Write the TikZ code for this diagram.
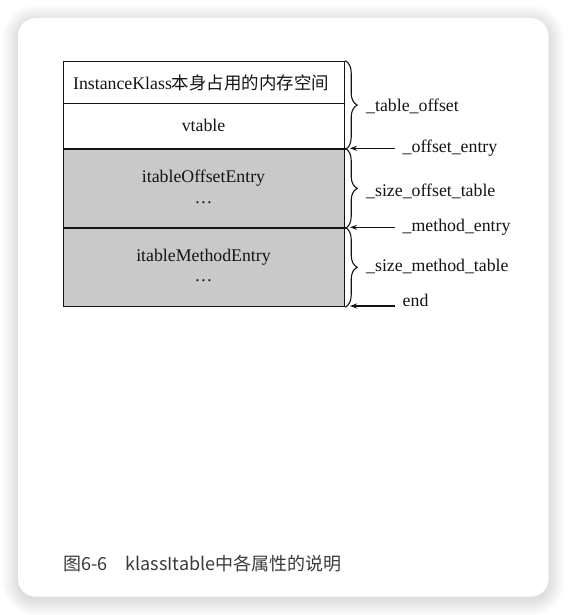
\documentclass[tikz,border=0pt]{standalone}
\usepackage{fontspec}
\setmainfont{Liberation Serif}
\newfontfamily\cjk[Scale=0.98]{Noto Sans CJK SC}
\newfontfamily\capfont{Noto Sans CJK SC}
\usetikzlibrary{decorations.pathreplacing,arrows.meta}
\definecolor{cellgray}{RGB}{201,201,201}
\definecolor{inkc}{RGB}{20,20,20}
\definecolor{capc}{RGB}{58,58,58}
\begin{document}
\begin{tikzpicture}[x=1pt,y=-1pt,
  cell/.style={draw=inkc, line width=1.2pt, minimum width=281pt, inner sep=0pt, anchor=north west},
  txt/.style={font=\fontsize{17.8}{20}\selectfont, inner sep=0pt, text=inkc, anchor=base},
  lbl/.style={font=\fontsize{17.8}{20}\selectfont, inner sep=0pt, text=inkc, anchor=base west},
  bracec/.style={draw=inkc, line width=1.1pt, decorate, decoration={brace, amplitude=12pt}},
  arr/.style={draw=inkc, line width=1.1pt, -{Stealth[length=7pt,width=5pt]}}
]
\useasboundingbox (0,0) rectangle (567,615);
\fill[white] (0,0) rectangle (567,615);
% card shadow
\foreach \i [evaluate=\i as \r using 18+\i] in {1,...,16} {
  \fill[black, opacity=0.006, rounded corners=\r pt] (18-\i,18-\i+3) rectangle (548.5+\i,596.7+\i+3);
}
\fill[white, rounded corners=18pt] (18,18) rectangle (548.5,596.7);

% cells
\node[cell, fill=white, minimum height=42.6pt] (c1) at (63,60.7) {};
\node[cell, fill=white, minimum height=45pt] (c2) at (63,103.3) {};
\node[cell, fill=cellgray, minimum height=79pt] (c3) at (63,148.3) {};
\node[cell, fill=cellgray, minimum height=78.7pt] (c4) at (63,227.3) {};

% cell texts
\node[txt] (t1) at (201,89.3) {InstanceKlass{\cjk 本身占用的内存空间}};
\node[txt] (t2) at (203.5,131.7) {vtable};
\node[txt] (t3) at (203.5,182.7) {itableOffsetEntry};
\node[txt] (t3d) at (203.5,203.3) {…};
\node[txt] (t4) at (203.5,261) {itableMethodEntry};
\node[txt] (t4d) at (203.5,281.7) {…};

% braces
\draw[bracec] (c1.north east) -- (c2.south east);
\draw[bracec] (c3.north east) -- (c3.south east);
\draw[bracec] (c4.north east) -- (c4.south east);

% brace labels
\node[lbl] (b1) at (366,111.5) {\_table\_offset};
\node[lbl] (b2) at (366,196) {\_size\_offset\_table};
\node[lbl] (b3) at (366,271) {\_size\_method\_table};

% arrow labels and arrows
\node[lbl] (e1) at (402.5,152.7) {\_offset\_entry};
\node[lbl] (e2) at (402.5,231.7) {\_method\_entry};
\node[lbl] (e3) at (402.5,306.5) {end};
\coordinate (s1) at (395,148.3);
\coordinate (s2) at (395,227.3);
\coordinate (s3) at (395,306);
\coordinate (d1) at (350,148.3);
\coordinate (d2) at (350,227.3);
\coordinate (d3) at (350,306);
\draw[arr] (s1) -- (d1);
\draw[arr] (s2) -- (d2);
\draw[arr] (s3) -- (d3);

% caption
\node[font=\capfont\fontsize{18}{20}\selectfont, text=capc, inner sep=0pt, anchor=base west] (cap) at (63,570.5) {图6-6\hspace{18pt}klassItable中各属性的说明};
\end{tikzpicture}
\end{document}
